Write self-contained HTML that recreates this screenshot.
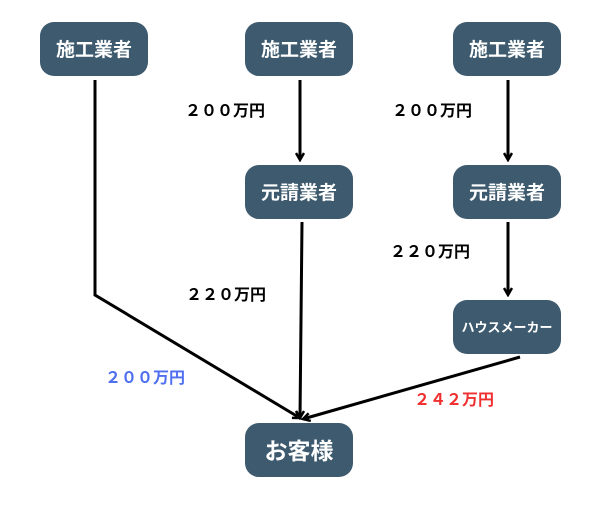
<!DOCTYPE html>
<html><head><meta charset="utf-8"><style>
body{margin:0;background:#fff;width:600px;height:500px;overflow:hidden}
</style></head><body>
<svg width="600" height="500" xmlns="http://www.w3.org/2000/svg" font-family="'Liberation Sans','Noto Sans CJK JP',sans-serif">
<defs><marker id="a" markerWidth="10" markerHeight="10" refX="8" refY="5" orient="auto" markerUnits="userSpaceOnUse"><path d="M1,1 L8,5 L1,9" fill="none" stroke="#000" stroke-width="2.5"/></marker></defs>
<g fill="#3d5a6e">
<rect x="40" y="22" width="108" height="54" rx="14"/>
<rect x="245" y="22" width="108" height="54" rx="14"/>
<rect x="453" y="22" width="108" height="54" rx="14"/>
<rect x="245" y="165" width="108" height="54" rx="14"/>
<rect x="453" y="165" width="108" height="54" rx="14"/>
<rect x="453" y="300" width="108" height="54" rx="14"/>
<rect x="245" y="423" width="108" height="54" rx="14"/>
</g>
<g fill="#fff" font-weight="bold" font-size="19" text-anchor="middle">
<text x="94" y="56">施工業者</text>
<text x="299" y="56">施工業者</text>
<text x="507" y="56">施工業者</text>
<text x="299" y="199">元請業者</text>
<text x="507" y="199">元請業者</text>
<text x="507" y="332" font-size="13">ハウスメーカー</text>
<text x="299" y="459" font-size="23">お客様</text>
</g>
<g stroke="#000" stroke-width="3" fill="none">
<polyline points="95,80 95,295 300,418" marker-end="url(#a)"/>
<line x1="302" y1="222" x2="300" y2="418" marker-end="url(#a)"/>
<line x1="300" y1="80" x2="300" y2="160" marker-end="url(#a)"/>
<line x1="508" y1="80" x2="508" y2="160" marker-end="url(#a)"/>
<line x1="508" y1="222" x2="508" y2="295" marker-end="url(#a)"/>
<line x1="520" y1="357" x2="303" y2="419" marker-end="url(#a)"/>
</g>
<g font-weight="bold" font-size="16">
<text x="185" y="116">２００万円</text>
<text x="392" y="116">２００万円</text>
<text x="186" y="300">２２０万円</text>
<text x="390" y="257">２２０万円</text>
<text x="105" y="383" fill="#4d6ff0">２００万円</text>
<text x="414" y="405" fill="#f03030">２４２万円</text>
</g>
</svg>
</body></html>
